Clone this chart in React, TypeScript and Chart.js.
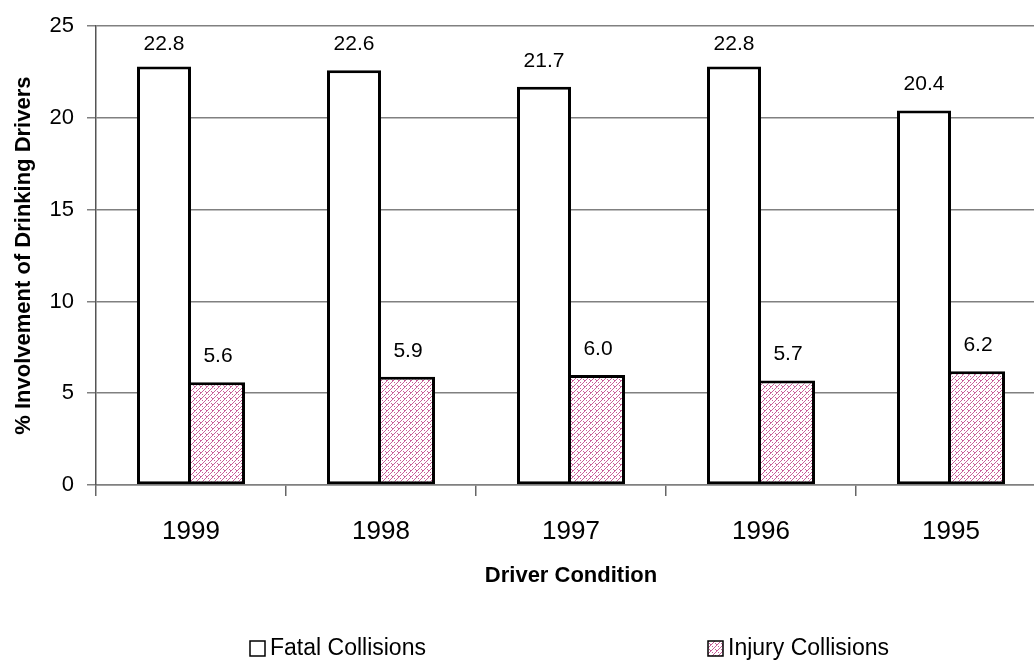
import React, { useEffect, useRef } from "react";
import { Chart, registerables } from "chart.js";

Chart.register(...registerables);

const categories = ["1999", "1998", "1997", "1996", "1995"];
const fatalValues = [22.8, 22.6, 21.7, 22.8, 20.4];
const injuryValues = [5.6, 5.9, 6.0, 5.7, 6.2];
const seriesNames = ["Fatal Collisions", "Injury Collisions"];
const yTickValues = [0, 5, 10, 15, 20, 25];

const FONT = "'Liberation Sans', Arial, sans-serif";

function makePattern(): CanvasPattern | string {
  const c = document.createElement("canvas");
  c.width = 6;
  c.height = 6;
  const g = c.getContext("2d");
  if (!g) return "#cc6699";
  g.fillStyle = "#ffffff";
  g.fillRect(0, 0, 6, 6);
  g.fillStyle = "#c8609a";
  for (let i = 0; i < 6; i++) {
    g.fillRect(i, 5 - i, 1, 1);
  }
  g.fillRect(1, 1, 1, 1);
  g.fillRect(4, 4, 1, 1);
  g.fillRect(2, 2, 1, 1);
  const p = g.createPattern(c, "repeat");
  return p || "#cc6699";
}

export default function App() {
  const ref = useRef<HTMLCanvasElement | null>(null);

  useEffect(() => {
    if (!ref.current) return;
    const pattern = makePattern();

    const labelPlugin = {
      id: "valueLabels",
      afterDatasetsDraw(chart: any) {
        const ctx = chart.ctx;
        ctx.save();
        ctx.font = `21px ${FONT}`;
        ctx.fillStyle = "#000";
        ctx.textAlign = "center";
        ctx.textBaseline = "middle";
        chart.data.datasets.forEach((ds: any, di: number) => {
          const meta = chart.getDatasetMeta(di);
          meta.data.forEach((el: any, i: number) => {
            const v = ds.data[i] as number;
            let y = el.y - 26;
            if (y < 44) y = 44;
            ctx.fillText(v.toFixed(1), el.x, y);
          });
        });
        ctx.restore();
      },
    };

    const legendPlugin = {
      id: "customLegend",
      afterDraw(chart: any) {
        const ctx = chart.ctx;
        ctx.save();
        const yc = 648;
        const items = [
          { x: 250, fill: "#ffffff" as any, text: seriesNames[0] },
          { x: 708, fill: pattern as any, text: seriesNames[1] },
        ];
        items.forEach((it) => {
          ctx.fillStyle = it.fill;
          ctx.fillRect(it.x, yc - 7, 15, 15);
          ctx.strokeStyle = "#000";
          ctx.lineWidth = 1.5;
          ctx.strokeRect(it.x, yc - 7, 15, 15);
          ctx.fillStyle = "#000";
          ctx.font = `23px ${FONT}`;
          ctx.textAlign = "left";
          ctx.textBaseline = "middle";
          ctx.fillText(it.text, it.x + 20, yc + 1);
        });
        ctx.restore();
      },
    };

    const chart = new Chart(ref.current, {
      type: "bar",
      data: {
        labels: categories,
        datasets: [
          {
            label: seriesNames[0],
            data: fatalValues,
            backgroundColor: "#ffffff",
            borderColor: "#000000",
            borderWidth: 3,
            borderSkipped: false,
            barPercentage: 1,
            categoryPercentage: 108 / 190,
          },
          {
            label: seriesNames[1],
            data: injuryValues,
            backgroundColor: pattern as any,
            borderColor: "#000000",
            borderWidth: { top: 3, right: 3, bottom: 3, left: 0 },
            borderSkipped: false,
            barPercentage: 1,
            categoryPercentage: 108 / 190,
          },
        ],
      },
      options: {
        responsive: false,
        animation: false,
        devicePixelRatio: 1,
        layout: { padding: { top: 25, left: 0, right: 0, bottom: 71 } },
        plugins: {
          legend: { display: false },
          tooltip: { enabled: false },
          title: { display: false },
        },
        scales: {
          x: {
            offset: true,
            grid: {
              display: true,
              drawOnChartArea: false,
              offset: true,
              tickLength: 11,
              color: "#666666",
              lineWidth: 1.5,
            },
            border: { display: true, color: "#808080", width: 1.5 },
            ticks: {
              color: "#000",
              font: { family: FONT, size: 26 },
              padding: 20,
            },
            title: {
              display: true,
              text: "Driver Condition",
              color: "#000",
              font: { family: FONT, size: 22, weight: "bold" },
              padding: { top: 0, bottom: 0 },
            },
            afterFit: (s: any) => {
              s.height = 104;
            },
          },
          y: {
            min: 0,
            max: 25,
            afterBuildTicks: (s: any) => {
              s.ticks = yTickValues.map((v) => ({ value: v }));
            },
            grid: {
              color: "#808080",
              tickLength: 9,
              lineWidth: 1.5,
            },
            border: { display: true, color: "#555555", width: 1.5 },
            ticks: {
              color: "#000",
              font: { family: FONT, size: 22 },
              padding: 13,
            },
            title: {
              display: true,
              text: "% Involvement of Drinking Drivers",
              color: "#000",
              font: { family: FONT, size: 22, weight: "bold" },
              padding: { top: 11, bottom: 0 },
            },
            afterFit: (s: any) => {
              s.width = 96;
            },
          },
        },
      },
      plugins: [labelPlugin, legendPlugin],
    });

    return () => chart.destroy();
  }, []);

  return (
    <div
      style={{
        position: "absolute",
        left: 0,
        top: 0,
        width: 1034,
        height: 660,
        overflow: "hidden",
        background: "#fff",
      }}
    >
      <canvas ref={ref} width={1046} height={660} style={{ display: "block" }} />
    </div>
  );
}
